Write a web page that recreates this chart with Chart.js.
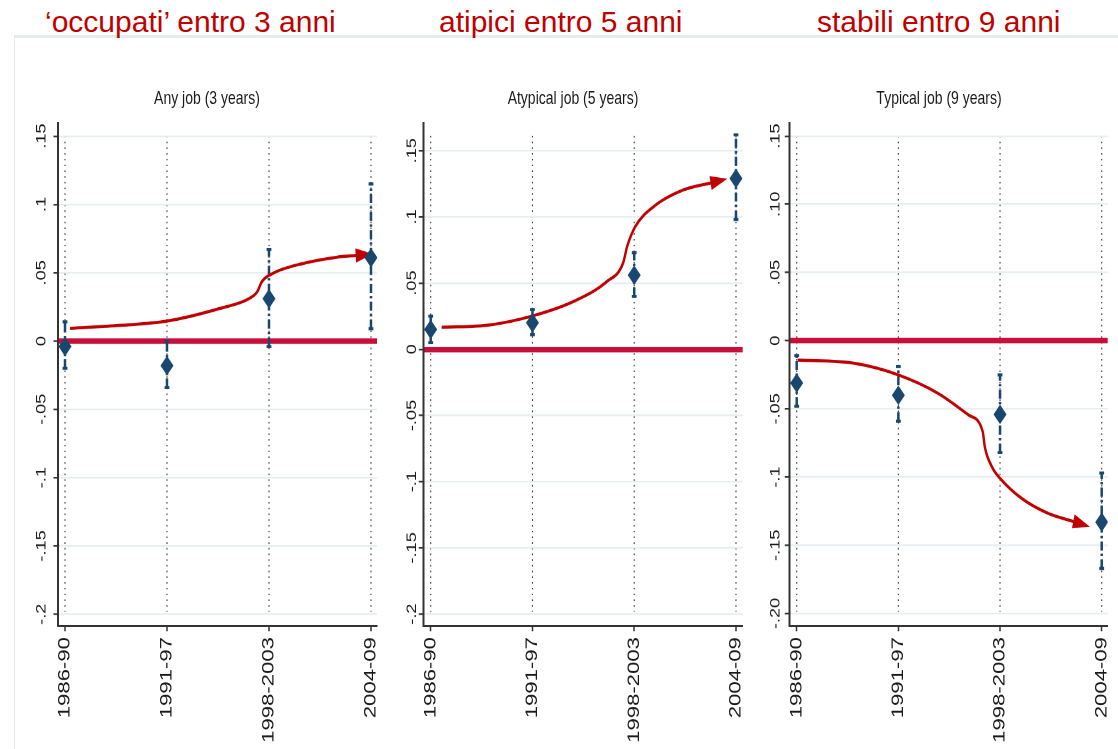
<!DOCTYPE html>
<html><head><meta charset="utf-8">
<script src="https://cdn.jsdelivr.net/npm/chart.js@4"></script>
<style>
html,body{margin:0;padding:0;background:#fff;width:1118px;height:749px;overflow:hidden;position:relative;}
#frame{position:absolute;left:14px;top:35px;width:1104px;height:714px;border-top:3px solid #e6edf0;border-left:1.5px solid #e6edf0;box-sizing:border-box;}
.big{position:absolute;top:7px;font:30px/30px "Liberation Sans",Arial,sans-serif;color:#c00000;white-space:nowrap;z-index:2;}
#wrap{position:absolute;left:0;top:40px;width:1118px;height:545px;transform:scaleY(1.3);transform-origin:0 0;}
.sub{position:absolute;top:36.6px;font:14px/14px "Liberation Sans",Arial,sans-serif;color:#1a1a1a;white-space:nowrap;transform:translateX(-50%);}
canvas{position:absolute;top:0;}
</style></head>
<body>
<div id="frame"></div>
<div class="big" style="left:45px">‘occupati’ entro 3 anni</div>
<div class="big" style="left:439px">atipici entro 5 anni</div>
<div class="big" style="left:817px">stabili entro 9 anni</div>
<div id="wrap">
  <div class="sub" style="left:207px">Any job (3 years)</div>
  <div class="sub" style="left:573px">Atypical job (5 years)</div>
  <div class="sub" style="left:939px">Typical job (9 years)</div>
  <canvas id="c1" width="370" height="545" style="left:15px"></canvas>
  <canvas id="c2" width="367" height="545" style="left:385px"></canvas>
  <canvas id="c3" width="366" height="545" style="left:752px"></canvas>
</div>
<script>
// ---- data ----
const categories = ['1986-90', '1991-97', '1998-2003', '2004-09'];

const anyEst  = [-0.004, -0.018, 0.031, 0.061];
const anyLow  = [-0.020, -0.034, -0.004, 0.009];
const anyHigh = [0.014, 0.000, 0.067, 0.115];

const atypEst  = [0.015, 0.020, 0.056, 0.129];
const atypLow  = [0.005, 0.011, 0.040, 0.098];
const atypHigh = [0.025, 0.030, 0.073, 0.162];

const typEst  = [-0.031, -0.040, -0.054, -0.133];
const typLow  = [-0.048, -0.059, -0.082, -0.167];
const typHigh = [-0.011, -0.019, -0.025, -0.097];

const yTickValues = [-0.2, -0.15, -0.1, -0.05, 0, 0.05, 0.1, 0.15];
const yTickLabelsA = ['-.2', '-.15', '-.1', '-.05', '0', '.05', '.1', '.15'];
const yTickLabelsB = ['-.20', '-.15', '-.1', '-.05', '0', '.05', '.10', '.15'];

// trend arrows (category position, value)
const anyArrowX = [0.05, 0.55, 1.0, 1.52, 1.81, 1.885, 1.93, 2.04, 2.34, 2.66, 2.86];
const anyArrowY = [0.0093, 0.0115, 0.0146, 0.0239, 0.0313, 0.0361, 0.0434, 0.0496, 0.0569, 0.0613, 0.0627];
const atypArrowX = [0.108, 0.58, 1.0, 1.40, 1.73, 1.89, 1.93, 2.01, 2.19, 2.48, 2.76];
const atypArrowY = [0.0166, 0.0184, 0.0252, 0.0360, 0.0511, 0.0650, 0.0775, 0.0926, 0.1077, 0.1203, 0.1258];
const typArrowX = [0.01, 0.57, 1.0, 1.39, 1.69, 1.83, 1.85, 1.92, 2.0, 2.21, 2.47, 2.73];
const typArrowY = [-0.0142, -0.0166, -0.0251, -0.0386, -0.0545, -0.0667, -0.0777, -0.0924, -0.1009, -0.1155, -0.1265, -0.1327];

// ---- style ----
const NAVY = '#1a476f';
const ARROW = '#c00000';
const ZERO = '#c80f3c';
const FONT = '"Liberation Sans", Arial, sans-serif';

const panelPlugin = {
  id: 'panelStyle',
  beforeDraw(chart) {
    const {ctx, chartArea: a} = chart;
    const xs = chart.scales.x;
    ctx.save();
    ctx.strokeStyle = '#3a3a3a';
    ctx.lineWidth = 1.1;
    ctx.setLineDash([1.2, 3.2]);
    categories.forEach((c, i) => {
      const px = xs.getPixelForValue(i);
      ctx.beginPath();
      ctx.moveTo(px, a.top + 10);
      ctx.lineTo(px, a.bottom - 11);
      ctx.stroke();
    });
    ctx.restore();
  },
  afterDatasetDraw(chart, args) {
    const ds = chart.data.datasets[args.index];
    if (!ds.isArrow) return;
    const pts = args.meta.data;
    const p = pts[pts.length - 1], q = pts[pts.length - 2];
    let dx = p.x - (p.cp1x !== undefined ? p.cp1x : q.x);
    let dy = p.y - (p.cp1y !== undefined ? p.cp1y : q.y);
    if (Math.hypot(dx, dy) < 0.5) { dx = p.x - q.x; dy = p.y - q.y; }
    const len = Math.hypot(dx, dy) || 1;
    const ux = dx / len, uy = dy / len;
    const L = 16, W = 5.5;
    const bx = p.x - ux * 1, by = p.y - uy * 1;
    const ctx = chart.ctx;
    ctx.save();
    ctx.fillStyle = ds.borderColor;
    ctx.beginPath();
    ctx.moveTo(p.x + ux * L, p.y + uy * L);
    ctx.lineTo(bx - uy * W, by + ux * W);
    ctx.lineTo(bx + uy * W, by - ux * W);
    ctx.closePath();
    ctx.fill();
    ctx.restore();
  }
};

function makeChart(id, est, lo, hi, arrowX, arrowY, yLabels, cfg, marker) {
  const datasets = [
    {
      data: categories.map((c, i) => ({x: i, y: est[i]})),
      showLine: false,
      pointStyle: marker,
      pointRadius: 6.5,
      pointBackgroundColor: NAVY,
      pointBorderColor: NAVY,
      pointBorderWidth: 0
    },
    {
      isArrow: true,
      data: arrowX.map((v, i) => ({x: v, y: arrowY[i]})),
      borderColor: ARROW,
      borderWidth: 2.4,
      cubicInterpolationMode: 'monotone',
      pointRadius: 0,
      fill: false
    }
  ];
  categories.forEach((c, i) => {
    datasets.push({
      data: [{x: i, y: lo[i]}, {x: i, y: hi[i]}],
      borderColor: NAVY,
      borderWidth: 2.5,
      borderDash: [7, 2.5, 1.8, 2.5],
      pointStyle: 'line',
      pointRadius: 2.4,
      pointBorderWidth: 2.4,
      pointBorderColor: NAVY,
      pointBackgroundColor: NAVY
    });
  });

  return new Chart(document.getElementById(id), {
    type: 'line',
    data: {datasets},
    plugins: [panelPlugin],
    options: {
      responsive: false,
      animation: false,
      devicePixelRatio: 2,
      events: [],
      layout: {padding: {top: 63.85, right: cfg.padR, left: 0, bottom: 0}},
      plugins: {legend: {display: false}, tooltip: {enabled: false}, title: {display: false}},
      scales: {
        x: {
          type: 'linear',
          min: cfg.xMin, max: cfg.xMax,
          afterBuildTicks: s => { s.ticks = categories.map((c, i) => ({value: i})); },
          afterFit: s => { s.height = 94.23; s.paddingLeft = 0; s.paddingRight = 0; },
          ticks: {
            autoSkip: false, minRotation: 90, maxRotation: 90, padding: 4.5,
            color: '#1a1a1a', font: {family: FONT, size: 17},
            callback: (v, i) => categories[i]
          },
          grid: {drawOnChartArea: false, drawTicks: true, tickLength: 4, tickColor: '#333', tickWidth: 1.5},
          border: {display: true, color: '#333', width: 1.5}
        },
        y: {
          type: 'linear',
          min: cfg.yMin, max: cfg.yMax,
          afterBuildTicks: s => { s.ticks = yTickValues.map(v => ({value: v})); },
          afterFit: s => { s.width = cfg.yWidth; s.paddingTop = 0; s.paddingBottom = 0; },
          ticks: {
            autoSkip: false, minRotation: 90, maxRotation: 90, crossAlign: 'center', padding: cfg.labelPad,
            color: '#1a1a1a', font: {family: FONT, size: 14},
            callback: (v, i) => yLabels[i]
          },
          grid: {
            color: c => (c.tick && c.tick.value === 0) ? ZERO : '#e6eef0',
            lineWidth: c => (c.tick && c.tick.value === 0) ? 4.2 : 1.3,
            tickColor: '#333', tickLength: 4.5, tickWidth: 1.3
          },
          border: {display: true, color: '#333', width: 2}
        }
      }
    }
  });
}

function init(marker) {
  makeChart('c1', anyEst, anyLow, anyHigh, anyArrowX, anyArrowY, yTickLabelsA,
    {xMin: -0.0686, xMax: 3.059, yMin: -0.2086, yMax: 0.1596, yWidth: 43, padR: 8, labelPad: 0}, marker);
  makeChart('c2', atypEst, atypLow, atypHigh, atypArrowX, atypArrowY, yTickLabelsA,
    {xMin: -0.0727, xMax: 3.066, yMin: -0.209, yMax: 0.1709, yWidth: 38.3, padR: 9.3, labelPad: -5.3}, marker);
  makeChart('c3', typEst, typLow, typHigh, typArrowX, typArrowY, yTickLabelsB,
    {xMin: -0.0728, xMax: 3.059, yMin: -0.2092, yMax: 0.1596, yWidth: 37.3, padR: 10.3, labelPad: -3}, marker);
}

const diamond = new Image(13, 15);
let started = false;
diamond.onload = () => { if (!started) { started = true; init(diamond); } };
diamond.onerror = () => { if (!started) { started = true; init('rectRot'); } };
diamond.src = 'data:image/svg+xml;utf8,' + encodeURIComponent(
  "<svg xmlns='http://www.w3.org/2000/svg' width='52' height='60' viewBox='0 0 52 60'><path d='M26 0 L52 30 L26 60 L0 30 Z' fill='" + NAVY + "'/></svg>");
</script>
</body></html>
